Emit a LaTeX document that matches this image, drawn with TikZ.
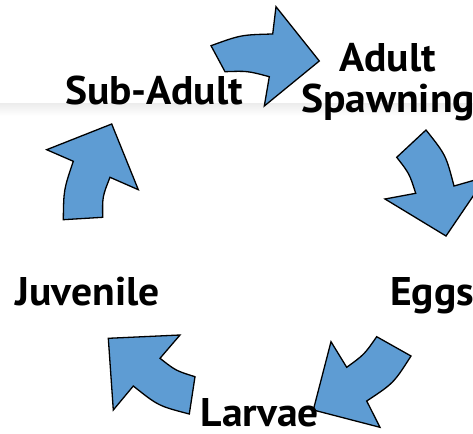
\documentclass[tikz,border=0pt]{standalone}
\usepackage{fontspec}
\setmainfont{PT Sans}[FakeStretch=1.04]
\definecolor{arrowblue}{RGB}{94,156,211}
\begin{document}
\begin{tikzpicture}[x=1pt,y=-1pt,
  cyc/.style={fill=arrowblue, draw=black, line width=1.3pt, line join=miter},
  lbl/.style={font=\bfseries\fontsize{40}{44}\selectfont, inner sep=0pt, text=black}]
\useasboundingbox (0,0) rectangle (473,433);
\clip (0,0) rectangle (473,433);
\shade[top color=black!7, bottom color=white] (0,104) rectangle (473,116);
% arrow Sub-Adult -> Adult Spawning
\draw[cyc] (211,45.7) .. controls (240.9,34.85) .. (272.7,34) -- (276,6.7) -- (319.3,61)
  -- (264.3,106) -- (269.3,76.7) .. controls (247.5,70.9) .. (225,71.7) -- cycle;
% arrow Adult Spawning -> Eggs
\draw[cyc] (426,130) .. controls (445.9,155) .. (454,186) -- (486.2,176.8) -- (446,236)
  -- (385,199) -- (415.7,193.3) .. controls (409.4,173.6) .. (396.7,157.3) -- cycle;
% arrow Eggs -> Larvae
\draw[cyc] (411,356) .. controls (393.6,383.2) .. (366.7,401) -- (380,427.3) -- (313.3,410)
  -- (331,341.7) -- (346.7,367.3) .. controls (364.3,354.5) .. (376.7,336.7) -- cycle;
% arrow Larvae -> Juvenile
\draw[cyc] (195,376.7) .. controls (175.8,370.7) .. (160,358.3) -- (180,335) -- (108.3,338.3)
  -- (113.3,410) -- (133.3,386) .. controls (158.3,405.9) .. (189.3,414) -- cycle;
% arrow Juvenile -> Sub-Adult
\draw[cyc] (63.3,219.7) .. controls (63.7,189.7) .. (73.3,161.3) -- (46.7,149.7) -- (111.7,124)
  -- (138.3,189.7) -- (110,177.3) .. controls (102.4,196.6) .. (102.7,217.3) -- cycle;
% labels
\node[lbl, anchor=base] (subadult) at (154,105) {Sub-Adult};
\node[lbl, anchor=base] (adult) at (387.5,72) {Adult};
\node[lbl, anchor=base] (spawning) at (388,113) {Spawning};
\node[lbl, anchor=base west] (eggs) at (390,305) {Eggs};
\node[lbl, anchor=base] (larvae) at (260,426) {Larvae};
\node[lbl, anchor=base] (juvenile) at (87.5,305) {Juvenile};
\end{tikzpicture}
\end{document}
